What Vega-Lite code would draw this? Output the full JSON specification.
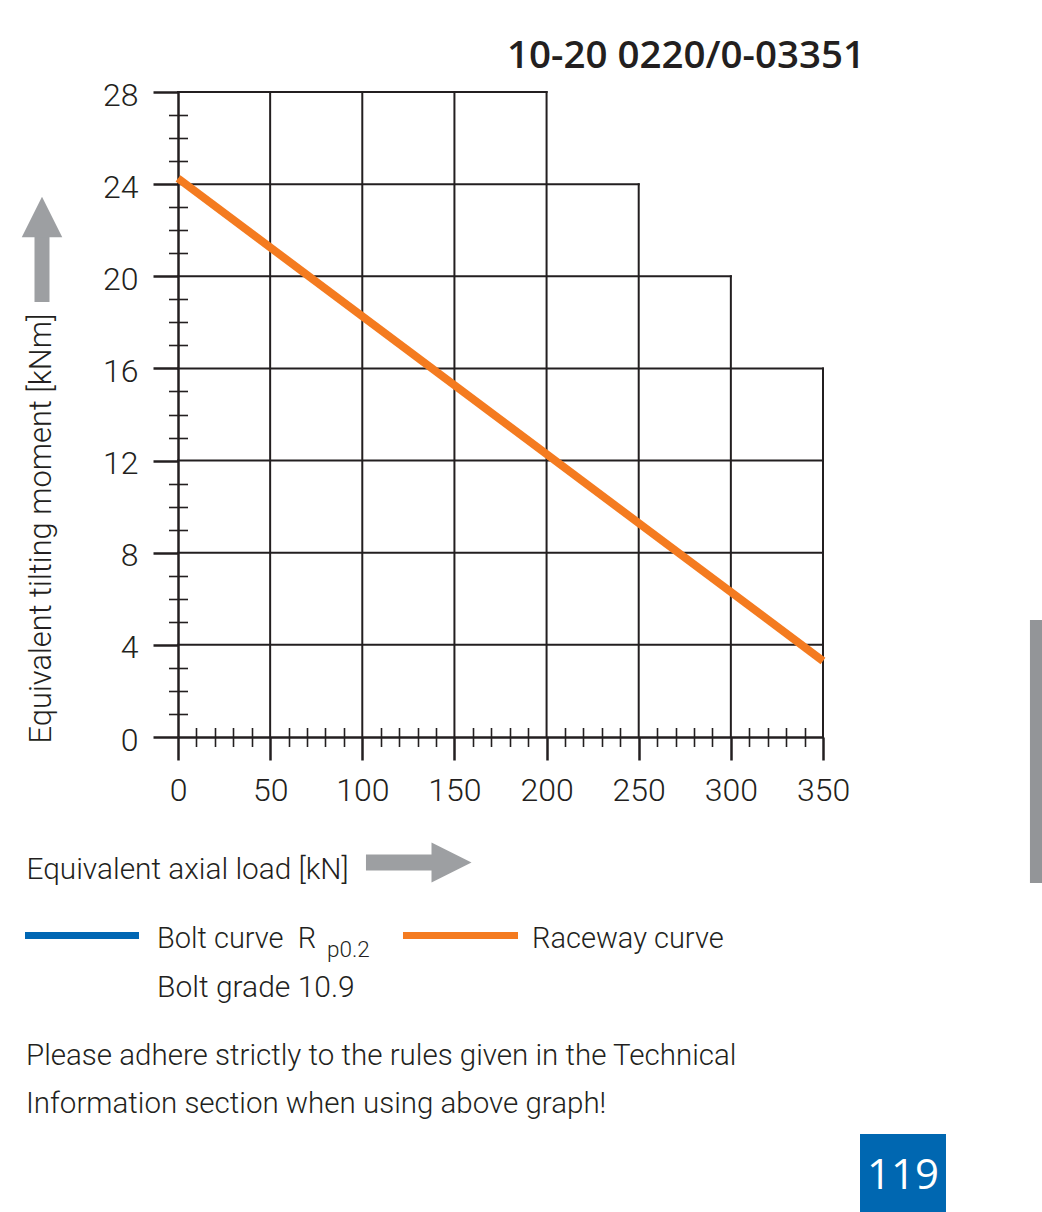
{
  "$schema": "https://vega.github.io/schema/vega-lite/v6.json",
  "autosize": {"type": "none"},
  "width": 645,
  "height": 645,
  "padding": {"left": 178, "top": 92, "right": 219, "bottom": 475},
  "background": "white",
  "config": {"view": {"stroke": null}, "font": "Roboto"},
  "title": {
    "text": "10-20 0220/0-03351",
    "anchor": "end",
    "frame": "group",
    "orient": "top",
    "font": "Open Sans",
    "fontSize": 38.5,
    "fontWeight": 600,
    "color": "#231f20",
    "baseline": "alphabetic",
    "dx": 42,
    "dy": 37,
    "offset": 10
  },
  "datasets": {
    "grid": [
      {"x1": 50, "x2": 50, "y1": 0, "y2": 28},
      {"x1": 100, "x2": 100, "y1": 0, "y2": 28},
      {"x1": 150, "x2": 150, "y1": 0, "y2": 28},
      {"x1": 200, "x2": 200, "y1": 0, "y2": 28},
      {"x1": 250, "x2": 250, "y1": 0, "y2": 24},
      {"x1": 300, "x2": 300, "y1": 0, "y2": 20},
      {"x1": 350, "x2": 350, "y1": 0, "y2": 16},
      {"x1": 0, "x2": 200, "y1": 28, "y2": 28},
      {"x1": 0, "x2": 250, "y1": 24, "y2": 24},
      {"x1": 0, "x2": 300, "y1": 20, "y2": 20},
      {"x1": 0, "x2": 350, "y1": 16, "y2": 16},
      {"x1": 0, "x2": 350, "y1": 12, "y2": 12},
      {"x1": 0, "x2": 350, "y1": 8, "y2": 8},
      {"x1": 0, "x2": 350, "y1": 4, "y2": 4}
    ],
    "raceway": [
      {"curve": "Raceway curve", "load": 0, "moment": 24.25},
      {"curve": "Raceway curve", "load": 350, "moment": 3.3}
    ]
  },
  "resolve": {"axis": {"x": "independent", "y": "independent"}},
  "layer": [
    {
      "data": {"name": "grid"},
      "mark": {"type": "rule", "color": "#231f20", "strokeWidth": 2, "strokeCap": "square"},
      "encoding": {
        "x": {
          "field": "x1", "type": "quantitative",
          "scale": {"domain": [0, 350], "nice": false, "zero": false},
          "axis": {
            "orient": "bottom",
            "values": [0, 50, 100, 150, 200, 250, 300, 350],
            "grid": false,
            "domain": true, "domainColor": "#231f20", "domainWidth": 2.5,
            "ticks": true, "tickColor": "#231f20", "tickWidth": 2.5, "tickSize": 23,
            "labelFont": "Roboto", "labelFontWeight": 300, "labelFontSize": 32, "labelColor": "#231f20",
            "labelPadding": 15, "labelFlush": false, "labelOverlap": false,
            "title": "Equivalent axial load [kN]",
            "titleFont": "Roboto", "titleFontSize": 29.8, "titleFontWeight": 300,
            "titleColor": "#231f20", "titleX": -152, "titleY": 141,
            "titleAlign": "left", "titleBaseline": "alphabetic", "titleAngle": 0
          }
        },
        "x2": {"field": "x2"},
        "y": {
          "field": "y1", "type": "quantitative",
          "scale": {"domain": [0, 28], "nice": false, "zero": false},
          "axis": {
            "orient": "left",
            "values": [0, 4, 8, 12, 16, 20, 24, 28],
            "grid": false,
            "domain": true, "domainColor": "#231f20", "domainWidth": 2.5,
            "ticks": true, "tickColor": "#231f20", "tickWidth": 2.5, "tickSize": 25,
            "labelFont": "Roboto", "labelFontWeight": 300, "labelFontSize": 32, "labelColor": "#231f20",
            "labelPadding": 15, "labelFlush": false, "labelOverlap": false, "labelOffset": 3,
            "title": "Equivalent tilting moment [kNm]",
            "titleFont": "Roboto", "titleFontSize": 30.8, "titleFontWeight": 300,
            "titleColor": "#231f20", "titleX": -128, "titleY": 436,
            "titleAlign": "center", "titleBaseline": "alphabetic", "titleAngle": -90
          }
        },
        "y2": {"field": "y2"}
      }
    },
    {
      "data": {"name": "raceway"},
      "mark": {"type": "line", "color": "#f47b20", "strokeWidth": 8, "strokeCap": "butt"},
      "encoding": {
        "x": {
          "field": "load", "type": "quantitative",
          "scale": {"domain": [0, 350], "nice": false, "zero": false},
          "axis": {
            "orient": "bottom",
            "values": [10, 20, 30, 40, 60, 70, 80, 90, 110, 120, 130, 140, 160, 170, 180, 190, 210, 220, 230, 240, 260, 270, 280, 290, 310, 320, 330, 340],
            "offset": -9.5, "tickSize": 19, "tickWidth": 1.6, "tickColor": "#231f20",
            "domain": false, "labels": false, "grid": false, "title": null
          }
        },
        "y": {
          "field": "moment", "type": "quantitative",
          "scale": {"domain": [0, 28], "nice": false, "zero": false},
          "axis": {
            "orient": "left",
            "values": [1, 2, 3, 5, 6, 7, 9, 10, 11, 13, 14, 15, 17, 18, 19, 21, 22, 23, 25, 26, 27],
            "offset": -9.5, "tickSize": 19, "tickWidth": 1.6, "tickColor": "#231f20",
            "domain": false, "labels": false, "grid": false, "title": null
          }
        }
      }
    },
    {
      "data": {"values": [{}]},
      "mark": {"type": "rule", "color": "#9d9fa2", "strokeWidth": 15},
      "encoding": {
        "x": {"datum": -73.8, "type": "quantitative", "scale": {"domain": [0, 350]}, "axis": null},
        "y": {"datum": 18.88, "type": "quantitative", "scale": {"domain": [0, 28]}, "axis": null},
        "y2": {"datum": 21.75}
      }
    },
    {
      "data": {"values": [{}]},
      "mark": {"type": "point", "shape": "M-1,1L0,-1L1,1Z", "size": 1640, "filled": true, "opacity": 1, "color": "#9d9fa2", "strokeWidth": 0},
      "encoding": {
        "x": {"datum": -73.8, "type": "quantitative", "scale": {"domain": [0, 350]}, "axis": null},
        "y": {"datum": 22.57, "type": "quantitative", "scale": {"domain": [0, 28]}, "axis": null}
      }
    },
    {
      "data": {"values": [{}]},
      "mark": {"type": "rule", "color": "#9d9fa2", "strokeWidth": 16},
      "encoding": {
        "x": {"datum": 102.0, "type": "quantitative", "scale": {"domain": [0, 350]}, "axis": null},
        "x2": {"datum": 138.4},
        "y": {"datum": -5.447, "type": "quantitative", "scale": {"domain": [0, 28]}, "axis": null}
      }
    },
    {
      "data": {"values": [{}]},
      "mark": {"type": "point", "shape": "M-1,-1L1,0L-1,1Z", "size": 1600, "filled": true, "opacity": 1, "color": "#9d9fa2", "strokeWidth": 0},
      "encoding": {
        "x": {"datum": 148.4, "type": "quantitative", "scale": {"domain": [0, 350]}, "axis": null},
        "y": {"datum": -5.447, "type": "quantitative", "scale": {"domain": [0, 28]}, "axis": null}
      }
    },
    {
      "data": {"values": [{}]},
      "mark": {"type": "rule", "color": "#0066b3", "strokeWidth": 7},
      "encoding": {
        "x": {"datum": -83.02, "type": "quantitative", "scale": {"domain": [0, 350]}, "axis": null},
        "x2": {"datum": -21.16},
        "y": {"datum": -8.617, "type": "quantitative", "scale": {"domain": [0, 28]}, "axis": null}
      }
    },
    {
      "data": {"values": [{}]},
      "mark": {"type": "rule", "color": "#f47b20", "strokeWidth": 7},
      "encoding": {
        "x": {"datum": 122.09, "type": "quantitative", "scale": {"domain": [0, 350]}, "axis": null},
        "x2": {"datum": 184.5},
        "y": {"datum": -8.617, "type": "quantitative", "scale": {"domain": [0, 28]}, "axis": null}
      }
    },
    {
      "data": {"values": [{}]},
      "mark": {"type": "text", "text": "Bolt curve \u00a0R", "align": "left", "baseline": "alphabetic", "font": "Roboto", "fontWeight": 300, "fontSize": 29, "color": "#231f20"},
      "encoding": {
        "x": {"datum": -11.4, "type": "quantitative", "scale": {"domain": [0, 350]}, "axis": null},
        "y": {"datum": -9.16, "type": "quantitative", "scale": {"domain": [0, 28]}, "axis": null}
      }
    },
    {
      "data": {"values": [{}]},
      "mark": {"type": "text", "text": "p0.2", "align": "left", "baseline": "alphabetic", "font": "Roboto", "fontWeight": 300, "fontSize": 22.5, "color": "#231f20"},
      "encoding": {
        "x": {"datum": 80.85, "type": "quantitative", "scale": {"domain": [0, 350]}, "axis": null},
        "y": {"datum": -9.55, "type": "quantitative", "scale": {"domain": [0, 28]}, "axis": null}
      }
    },
    {
      "data": {"values": [{}]},
      "mark": {"type": "text", "text": "Bolt grade 10.9", "align": "left", "baseline": "alphabetic", "font": "Roboto", "fontWeight": 300, "fontSize": 30, "color": "#231f20"},
      "encoding": {
        "x": {"datum": -11.4, "type": "quantitative", "scale": {"domain": [0, 350]}, "axis": null},
        "y": {"datum": -11.287, "type": "quantitative", "scale": {"domain": [0, 28]}, "axis": null}
      }
    },
    {
      "data": {"values": [{}]},
      "mark": {"type": "text", "text": "Raceway curve", "align": "left", "baseline": "alphabetic", "font": "Roboto", "fontWeight": 300, "fontSize": 29, "color": "#231f20"},
      "encoding": {
        "x": {"datum": 192.09, "type": "quantitative", "scale": {"domain": [0, 350]}, "axis": null},
        "y": {"datum": -9.16, "type": "quantitative", "scale": {"domain": [0, 28]}, "axis": null}
      }
    },
    {
      "data": {"values": [{}]},
      "mark": {"type": "text", "text": ["Please adhere strictly to the rules given in the Technical", "Information section when using above graph!"], "align": "left", "baseline": "alphabetic", "lineHeight": 48, "font": "Roboto", "fontWeight": 300, "fontSize": 29.5, "color": "#231f20"},
      "encoding": {
        "x": {"datum": -82.48, "type": "quantitative", "scale": {"domain": [0, 350]}, "axis": null},
        "y": {"datum": -14.24, "type": "quantitative", "scale": {"domain": [0, 28]}, "axis": null}
      }
    },
    {
      "data": {"values": [{}]},
      "mark": {"type": "rect", "color": "#939598"},
      "encoding": {
        "x": {"datum": 462.3, "type": "quantitative", "scale": {"domain": [0, 350]}, "axis": null},
        "x2": {"datum": 470},
        "y": {"datum": 5.079, "type": "quantitative", "scale": {"domain": [0, 28]}, "axis": null},
        "y2": {"datum": -6.338}
      }
    },
    {
      "data": {"values": [{}]},
      "mark": {"type": "rect", "color": "#0067b1"},
      "encoding": {
        "x": {"datum": 370.08, "type": "quantitative", "scale": {"domain": [0, 350]}, "axis": null},
        "x2": {"datum": 416.74},
        "y": {"datum": -17.234, "type": "quantitative", "scale": {"domain": [0, 28]}, "axis": null},
        "y2": {"datum": -20.75}
      }
    },
    {
      "data": {"values": [{}]},
      "mark": {"type": "text", "text": "119", "align": "center", "baseline": "alphabetic", "font": "Open Sans", "fontSize": 42, "color": "#ffffff"},
      "encoding": {
        "x": {"datum": 393.4, "type": "quantitative", "scale": {"domain": [0, 350]}, "axis": null},
        "y": {"datum": -19.62, "type": "quantitative", "scale": {"domain": [0, 28]}, "axis": null}
      }
    }
  ]
}
